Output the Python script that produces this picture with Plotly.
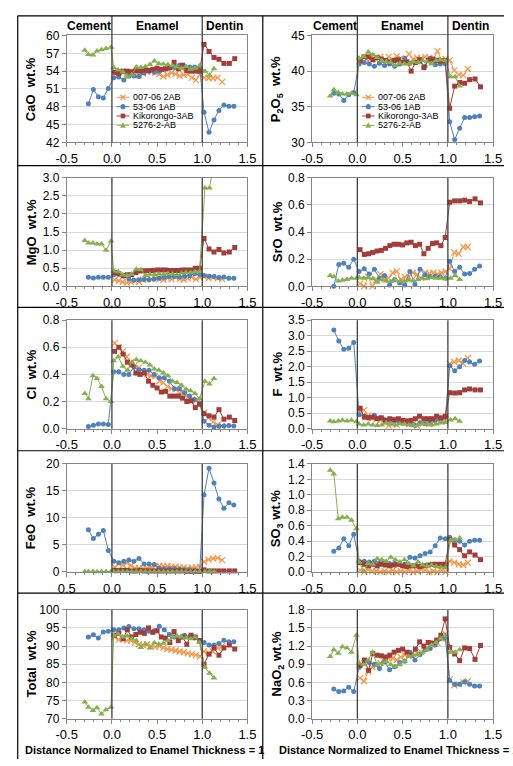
import plotly.graph_objects as go

# ---------------- data ----------------
SAMPLES = ["007-06 2AB", "53-06 1AB", "Kikorongo-3AB", "5276-2-AB"]

# normalized distance of analysis points (per sample)
X_007 = [0.03, 0.075, 0.12, 0.165, 0.21, 0.255, 0.30, 0.345, 0.39, 0.435, 0.48, 0.525, 0.57, 0.615,
         0.66, 0.705, 0.75, 0.795, 0.84, 0.885, 0.93, 0.975, 1.02, 1.07, 1.12, 1.17, 1.22]
X_53 = [-0.26, -0.205, -0.15, -0.095, -0.04, 0.02, 0.076, 0.132, 0.188, 0.244, 0.30, 0.356, 0.412,
        0.468, 0.524, 0.58, 0.636, 0.692, 0.748, 0.804, 0.86, 0.916, 0.972, 1.02, 1.075, 1.13, 1.185,
        1.24, 1.295, 1.35]
X_KIK = [0.03, 0.077, 0.124, 0.171, 0.218, 0.265, 0.312, 0.359, 0.406, 0.453, 0.50, 0.547, 0.594,
         0.641, 0.688, 0.735, 0.782, 0.829, 0.876, 0.923, 0.97, 1.02, 1.075, 1.13, 1.185, 1.24, 1.30, 1.36]
X_5276 = [-0.30, -0.26, -0.21, -0.165, -0.115, -0.065, -0.01, 0.02, 0.07, 0.12, 0.17, 0.22, 0.27,
          0.32, 0.37, 0.42, 0.47, 0.52, 0.57, 0.62, 0.67, 0.72, 0.77, 0.82, 0.87, 0.92, 0.97, 1.03,
          1.08, 1.13]

CAO_007 = [54.0, 53.9, 53.7, 53.5, 53.6, 53.4, 53.3, 53.6, 53.9, 54.0, 53.7, 53.5, 53.1, 53.4, 53.7,
           53.5, 53.2, 53.4, 53.5, 52.9, 52.5, 53.4, 52.9, 52.8, 52.8, 52.9, 52.2]
CAO_53 = [48.5, 50.9, 49.7, 49.5, 51.1, 52.9, 53.0, 52.5, 53.2, 53.2, 53.1, 53.7, 54.0, 53.8, 54.0,
          54.3, 54.5, 54.6, 55.0, 54.5, 54.7, 54.7, 54.6, 47.1, 43.7, 45.8, 47.4, 48.3, 48.1, 48.1]
CAO_KIK = [53.8, 53.6, 54.0, 54.0, 53.9, 54.1, 54.0, 54.2, 54.1, 54.3, 54.5, 54.3, 54.4, 54.6, 55.5,
           54.4, 55.0, 54.1, 54.0, 54.0, 54.0, 58.5, 57.3, 56.3, 56.0, 55.3, 55.3, 56.1]
CAO_5276 = [57.5, 56.8, 56.7, 57.4, 57.6, 57.8, 58.0, 54.6, 54.2, 53.9, 53.0, 53.4, 54.7, 54.6, 54.8,
            55.1, 55.7, 55.3, 55.2, 55.1, 54.9, 54.7, 54.5, 54.8, 54.3, 54.5, 54.9, 54.0, 53.3, 54.4]

P2O5_007 = [41.8, 41.9, 41.4, 42.1, 41.6, 42.0, 41.5, 42.0, 41.6, 42.1, 41.8, 41.7, 42.4, 41.7, 41.9,
            41.8, 42.0, 41.9, 41.6, 42.8, 41.6, 41.7, 41.5, 40.1, 39.5, 39.4, 40.3]
P2O5_53 = [36.9, 36.8, 35.9, 36.7, 37.0, 41.0, 41.2, 41.0, 40.7, 41.1, 40.8, 41.0, 40.7, 41.0, 41.8,
           41.1, 41.2, 41.3, 40.7, 41.8, 40.9, 41.0, 41.0, 32.9, 30.4, 32.0, 33.5, 33.5, 33.6, 33.7]
P2O5_KIK = [41.5, 42.0, 42.0, 41.6, 41.9, 41.7, 41.5, 41.3, 41.5, 41.6, 41.2, 41.3, 40.0, 41.2, 41.6,
            40.5, 41.5, 41.7, 41.5, 41.4, 41.5, 34.8, 37.9, 38.4, 38.3, 38.8, 38.9, 37.8]
P2O5_5276 = [36.5, 37.4, 37.0, 36.8, 36.8, 36.9, 36.7, 41.8, 42.0, 42.7, 42.3, 41.9, 41.5, 41.3, 41.2,
             40.8, 41.1, 41.0, 41.0, 41.3, 41.2, 41.5, 41.3, 41.0, 41.5, 41.6, 41.5, 39.2, 39.2, 37.9]

MGO_007 = [0.18, 0.15, 0.12, 0.10, 0.12, 0.15, 0.12, 0.18, 0.20, 0.20, 0.22, 0.20, 0.18, 0.22, 0.20,
           0.25, 0.20, 0.18, 0.22, 0.25, 0.20, 0.25, 0.27, 0.22, 0.25, 0.22, 0.20]
MGO_53 = [0.25, 0.23, 0.25, 0.25, 0.25, 0.32, 0.33, 0.28, 0.20, 0.17, 0.18, 0.19, 0.18, 0.20, 0.22,
          0.25, 0.27, 0.27, 0.26, 0.28, 0.30, 0.35, 0.33, 0.30, 0.28, 0.27, 0.24, 0.26, 0.22, 0.22]
MGO_KIK = [0.38, 0.35, 0.30, 0.32, 0.32, 0.38, 0.42, 0.43, 0.43, 0.44, 0.45, 0.45, 0.45, 0.44, 0.44,
           0.44, 0.45, 0.45, 0.45, 0.50, 0.50, 1.32, 1.03, 0.95, 1.02, 0.92, 0.95, 1.07]
MGO_5276 = [1.27, 1.20, 1.20, 1.17, 1.17, 1.00, 1.25, 0.42, 0.40, 0.32, 0.30, 0.33, 0.47, 0.46, 0.30,
            0.33, 0.32, 0.34, 0.33, 0.35, 0.34, 0.32, 0.36, 0.38, 0.38, 0.40, 0.40, 2.72, 2.72, 3.40]

SRO_007 = [0.02, 0.0, 0.07, 0.0, 0.05, 0.09, 0.05, 0.06, 0.10, 0.11, 0.05, 0.07, 0.07, 0.10, 0.085,
           0.06, 0.10, 0.095, 0.10, 0.09, 0.10, 0.11, 0.13, 0.25, 0.24, 0.29, 0.29]
SRO_53 = [0.0, 0.16, 0.17, 0.14, 0.20, 0.11, 0.13, 0.09, 0.125, 0.06, 0.08, 0.01, 0.05, 0.025, 0.01,
          0.11, 0.015, 0.125, 0.085, 0.07, 0.075, 0.07, 0.06, 0.185, 0.11, 0.14, 0.09, 0.095, 0.125, 0.15]
SRO_KIK = [0.27, 0.235, 0.24, 0.25, 0.26, 0.265, 0.28, 0.30, 0.31, 0.31, 0.305, 0.32, 0.325, 0.30, 0.31,
           0.24, 0.28, 0.315, 0.32, 0.30, 0.36, 0.62, 0.63, 0.63, 0.635, 0.625, 0.645, 0.615]
SRO_5276 = [0.08, 0.07, 0.04, 0.045, 0.05, 0.06, 0.06, 0.065, 0.06, 0.065, 0.055, 0.03, 0.05, 0.04,
            0.035, 0.05, 0.035, 0.04, 0.045, 0.04, 0.05, 0.06, 0.055, 0.065, 0.06, 0.06, 0.055, 0.06,
            0.08, 0.05]

CL_007 = [0.63, 0.60, 0.57, 0.53, 0.49, 0.47, 0.45, 0.42, 0.40, 0.39, 0.385, 0.35, 0.34, 0.31, 0.295,
          0.29, 0.265, 0.255, 0.23, 0.215, 0.205, 0.19, 0.12, 0.08, 0.05, 0.03, 0.02]
CL_53 = [0.015, 0.025, 0.035, 0.035, 0.03, 0.42, 0.42, 0.40, 0.40, 0.455, 0.435, 0.43, 0.43, 0.40, 0.375,
         0.375, 0.35, 0.295, 0.295, 0.265, 0.24, 0.215, 0.19, 0.055, 0.025, 0.012, 0.017, 0.02, 0.024, 0.02]
CL_KIK = [0.57, 0.60, 0.55, 0.49, 0.47, 0.41, 0.40, 0.41, 0.35, 0.32, 0.30, 0.27, 0.275, 0.24, 0.24,
          0.24, 0.225, 0.20, 0.205, 0.155, 0.18, 0.11, 0.095, 0.085, 0.14, 0.07, 0.085, 0.06]
CL_5276 = [0.26, 0.22, 0.39, 0.37, 0.31, 0.22, 0.20, 0.50, 0.53, 0.46, 0.43, 0.49, 0.51, 0.50, 0.49,
           0.47, 0.44, 0.43, 0.41, 0.39, 0.35, 0.34, 0.32, 0.29, 0.28, 0.26, 0.22, 0.35, 0.33, 0.37]

F_007 = [0.55, 0.60, 0.42, 0.35, 0.30, 0.28, 0.20, 0.10, 0.15, 0.12, 0.20, 0.18, 0.15, 0.15, 0.10,
         0.20, 0.18, 0.15, 0.20, 0.25, 0.22, 0.30, 2.10, 2.15, 2.20, 2.10, 2.28]
F_53 = [3.18, 2.83, 2.56, 2.59, 2.78, 0.45, 0.41, 0.37, 0.43, 0.34, 0.29, 0.27, 0.25, 0.21, 0.18,
        0.16, 0.11, 0.18, 0.16, 0.25, 0.27, 0.30, 0.37, 2.03, 1.87, 2.00, 2.20, 2.15, 2.08, 2.18]
F_KIK = [0.66, 0.37, 0.35, 0.37, 0.32, 0.35, 0.27, 0.32, 0.29, 0.32, 0.27, 0.25, 0.27, 0.32, 0.40,
         0.32, 0.32, 0.32, 0.40, 0.35, 0.40, 1.16, 1.15, 1.16, 1.25, 1.28, 1.25, 1.25]
F_5276 = [0.25, 0.22, 0.25, 0.27, 0.25, 0.27, 0.22, 0.15, 0.12, 0.15, 0.12, 0.10, 0.12, 0.18, 0.15,
          0.12, 0.15, 0.15, 0.12, 0.10, 0.12, 0.15, 0.15, 0.12, 0.15, 0.18, 0.20, 0.28, 0.32, 0.24]

FEO_007 = [0.9, 1.5, 1.3, 1.7, 1.2, 0.7, 0.7, 0.6, 0.7, 0.9, 1.1, 1.1, 1.1, 1.1, 1.0, 1.0, 0.9, 0.85,
           0.7, 0.8, 0.85, 1.0, 1.9, 2.3, 2.5, 2.6, 2.2]
FEO_53 = [7.8, 6.2, 7.0, 7.7, 4.0, 2.0, 1.7, 2.0, 2.2, 2.0, 2.5, 1.5, 1.5, 1.4, 0.7, 0.6, 0.6, 0.6,
          0.5, 0.4, 0.4, 0.3, 0.2, 14.3, 19.2, 16.5, 13.5, 11.8, 12.8, 12.4]
FEO_KIK = [0.3, 0.3, 0.3, 0.3, 0.2, 0.2, 0.3, 0.2, 0.2, 0.2, 0.2, 0.2, 0.2, 0.2, 0.2, 0.2, 0.2, 0.1,
           0.1, 0.1, 0.1, 0.4, 0.2, 0.2, 0.2, 0.2, 0.2, 0.2]
FEO_5276 = [0.1, 0.1, 0.1, 0.05, 0.1, 0.1, 0.1, 0.05, 0.05, 0.1, 0.05, 0.05, 0.05, 0.1, 0.05, 0.05,
            0.05, 0.05, 0.05, 0.05, 0.05, 0.05, 0.05, 0.05, 0.05, 0.05, 0.05, 0.05, 0.05, 0.05]

SO3_007 = [0.02, 0.0, 0.03, 0.01, 0.01, 0.0, 0.01, 0.0, 0.02, 0.0, 0.01, 0.0, 0.02, 0.0, 0.01, 0.03,
           0.02, 0.0, 0.01, 0.0, 0.02, 0.0, 0.14, 0.12, 0.10, 0.09, 0.12]
SO3_53 = [0.27, 0.31, 0.43, 0.34, 0.49, 0.14, 0.14, 0.13, 0.14, 0.12, 0.13, 0.11, 0.11, 0.10, 0.10,
          0.19, 0.18, 0.21, 0.24, 0.26, 0.34, 0.44, 0.43, 0.45, 0.41, 0.40, 0.35, 0.40, 0.41, 0.41]
SO3_KIK = [0.12, 0.10, 0.08, 0.10, 0.08, 0.10, 0.09, 0.08, 0.09, 0.10, 0.08, 0.07, 0.08, 0.08, 0.07,
           0.08, 0.09, 0.10, 0.10, 0.10, 0.10, 0.42, 0.35, 0.29, 0.21, 0.26, 0.22, 0.16]
SO3_5276 = [1.32, 1.27, 0.69, 0.71, 0.71, 0.67, 0.56, 0.13, 0.01, 0.11, 0.10, 0.17, 0.16, 0.14, 0.19,
            0.16, 0.13, 0.16, 0.11, 0.08, 0.13, 0.09, 0.08, 0.09, 0.07, 0.06, 0.05, 0.41, 0.42, 0.44]

TOTAL_007 = [92.5, 91.8, 92.0, 91.5, 91.5, 91.0, 90.5, 90.2, 90.5, 90.0, 89.8, 90.0, 89.5, 89.2, 89.0,
             88.8, 88.5, 88.3, 88.0, 87.8, 87.5, 87.2, 88.5, 88.0, 88.5, 89.5, 90.0]
TOTAL_53 = [92.5, 93.1, 92.2, 93.9, 94.1, 94.5, 94.5, 95.0, 95.4, 94.8, 94.8, 94.5, 94.1, 94.2, 95.5,
            94.5, 93.2, 92.5, 92.2, 93.0, 92.5, 92.2, 91.6, 91.0, 90.3, 90.3, 90.7, 91.6, 91.2, 91.2]
TOTAL_KIK = [93.0, 93.5, 92.0, 94.5, 92.5, 93.2, 93.8, 93.5, 95.0, 93.8, 94.2, 92.5, 92.2, 91.0, 94.0,
             91.5, 92.5, 90.5, 93.0, 92.5, 91.5, 85.0, 87.8, 89.5, 87.5, 89.5, 90.3, 89.2]
TOTAL_5276 = [74.6, 73.2, 72.3, 73.0, 71.3, 72.5, 73.2, 93.0, 93.3, 92.5, 92.8, 92.0, 91.5, 89.6, 90.6,
              89.5, 90.9, 90.5, 90.8, 91.5, 92.5, 92.8, 92.5, 92.2, 92.0, 92.5, 91.0, 84.2, 82.5, 81.2]

NAO2_007 = [0.67, 0.62, 0.78, 0.85, 0.88, 0.92, 0.95, 1.00, 1.00, 0.97, 1.02, 1.05, 1.07, 1.03, 1.08,
            1.10, 1.15, 1.20, 1.25, 1.25, 1.32, 1.40, 0.65, 0.55, 0.57, 0.60, 0.62]
NAO2_53 = [0.49, 0.45, 0.46, 0.52, 0.45, 0.85, 0.96, 0.93, 0.90, 0.83, 0.94, 0.81, 0.86, 0.93, 0.95,
           1.10, 0.97, 1.06, 1.14, 1.16, 1.22, 1.32, 1.33, 0.63, 0.57, 0.57, 0.61, 0.57, 0.54, 0.54]
NAO2_KIK = [0.88, 0.97, 0.80, 1.08, 1.05, 1.04, 1.02, 1.05, 1.10, 1.13, 1.15, 1.10, 1.05, 1.15, 1.27,
            1.20, 1.26, 1.25, 1.30, 1.38, 1.65, 1.18, 1.07, 0.96, 1.17, 1.16, 0.98, 1.21]
NAO2_5276 = [1.03, 1.14, 1.08, 1.19, 1.17, 1.10, 1.38, 0.92, 0.89, 0.97, 1.10, 0.89, 0.92, 0.95, 0.89,
             0.86, 0.89, 0.95, 1.03, 1.05, 1.06, 1.10, 1.14, 1.22, 1.26, 1.33, 1.38, 1.10, 1.10, 1.14]

X_TICKS = [-0.5, 0.0, 0.5, 1.0, 1.5]
X_TICK_TEXT = ["-0.5", "0.0", "0.5", "1.0", "1.5"]
X_TICK_TEXT_FEO = ["0.5", "0.0", "0.5", "1.0", "1.5"]
ZONES = ["Cement", "Enamel", "Dentin"]
ZONE_CENTERS = [-0.25, 0.5, 1.25]
BOUNDARIES = [0.0, 1.0]
X_TITLE = "Distance Normalized to Enamel Thickness = 1"

# panel: (y-title, data per sample, y range, dtick, tickformat, row, col)
PANELS = [
    ("CaO\u00a0\u00a0wt.%", [CAO_007, CAO_53, CAO_KIK, CAO_5276], [42, 60], 3, "d", 0, 0),
    ("P<sub>2</sub>O<sub>5</sub>\u00a0\u00a0wt.%", [P2O5_007, P2O5_53, P2O5_KIK, P2O5_5276], [30, 45], 5, "d", 0, 1),
    ("MgO\u00a0\u00a0wt.%", [MGO_007, MGO_53, MGO_KIK, MGO_5276], [0, 3], 0.5, ".1f", 1, 0),
    ("SrO\u00a0\u00a0wt.%", [SRO_007, SRO_53, SRO_KIK, SRO_5276], [0, 0.8], 0.2, ".1f", 1, 1),
    ("Cl\u00a0\u00a0wt.%", [CL_007, CL_53, CL_KIK, CL_5276], [0, 0.8], 0.2, ".1f", 2, 0),
    ("F\u00a0\u00a0wt.%", [F_007, F_53, F_KIK, F_5276], [0, 3.5], 0.5, ".1f", 2, 1),
    ("FeO\u00a0\u00a0wt.%", [FEO_007, FEO_53, FEO_KIK, FEO_5276], [0, 20], 5, "d", 3, 0),
    ("SO<sub>3</sub>\u00a0wt.%", [SO3_007, SO3_53, SO3_KIK, SO3_5276], [0, 1.4], 0.2, ".1f", 3, 1),
    ("Total\u00a0\u00a0wt.%", [TOTAL_007, TOTAL_53, TOTAL_KIK, TOTAL_5276], [70, 100], 5, "d", 4, 0),
    ("NaO<sub>2</sub>\u00a0wt.%", [NAO2_007, NAO2_53, NAO2_KIK, NAO2_5276], [0, 1.8], 0.3, ".1f", 4, 1),
]

X_BY_SAMPLE = [X_007, X_53, X_KIK, X_5276]

# ---------------- styling ----------------
W, H = 513, 766
COLORS = ["#F79646", "#4F81BD", "#A33D3A", "#86B04F"]
SYMBOLS = ["x-thin-open", "circle", "square", "triangle-up"]
MSIZES = [6, 5, 5, 6]

COL_X = [(58, 246), (313.3, 501.7)]            # plot-area left/right in px
ROW_Y = [(29, 138), (174, 284.5), (319, 429.5), (465.5, 575.5), (614, 725)]  # top/bottom in px
TITLE_X = [21, 277]
FRAME_TOP, FRAME_LEFT, FRAME_MID = 9, 7, 262
ROW_DIVIDERS = [161.5, 306, 452, 597]
LEG_ROWS = [92, 101.5, 111, 120.5]
AXIS_GRAY = "#868686"
FONT = "Arial, 'Liberation Sans', sans-serif"


def px_x(v):
    return v / W


def px_y(v):
    return 1 - v / H


def legend_key_shapes(s, cx, cy, color):
    """Small marker drawn as shapes for a legend key (pixel centre cx, cy)."""
    out = []
    if s == 0:
        r = 2.6
        for dy in (r, -r):
            out.append(dict(type="line", xref="paper", yref="paper",
                            x0=px_x(cx - r), x1=px_x(cx + r), y0=px_y(cy - dy), y1=px_y(cy + dy),
                            line=dict(color=color, width=1.2)))
    elif s == 1:
        r = 2.6
        out.append(dict(type="circle", xref="paper", yref="paper",
                        x0=px_x(cx - r), x1=px_x(cx + r), y0=px_y(cy + r), y1=px_y(cy - r),
                        fillcolor=color, line=dict(width=0)))
    elif s == 2:
        r = 2.4
        out.append(dict(type="rect", xref="paper", yref="paper",
                        x0=px_x(cx - r), x1=px_x(cx + r), y0=px_y(cy + r), y1=px_y(cy - r),
                        fillcolor=color, line=dict(width=0)))
    else:
        path = "M {:.5f},{:.5f} L {:.5f},{:.5f} L {:.5f},{:.5f} Z".format(
            px_x(cx - 3), px_y(cy + 2.6), px_x(cx + 3), px_y(cy + 2.6), px_x(cx), px_y(cy - 3))
        out.append(dict(type="path", xref="paper", yref="paper", path=path,
                        fillcolor=color, line=dict(width=0)))
    return out


fig = go.Figure()
layout = {}
shapes = []
annotations = []

for i, (ytitle, series, yr, dt, fmt, row, col) in enumerate(PANELS):
    n = i + 1
    xname = "xaxis" if n == 1 else f"xaxis{n}"
    yname = "yaxis" if n == 1 else f"yaxis{n}"
    xref = "x" if n == 1 else f"x{n}"
    yref = "y" if n == 1 else f"y{n}"
    x0, x1 = COL_X[col]
    top, bot = ROW_Y[row]

    layout[xname] = dict(
        domain=[px_x(x0), px_x(x1)], anchor=yref, range=[-0.5, 1.5],
        tickmode="array", tickvals=X_TICKS,
        ticktext=X_TICK_TEXT_FEO if ytitle.startswith("FeO") else X_TICK_TEXT,
        showgrid=False, zeroline=False, showline=True, linecolor=AXIS_GRAY, linewidth=1,
        mirror=True, ticks="outside", ticklen=4, tickcolor=AXIS_GRAY,
        tickfont=dict(size=13, family=FONT, color="black"),
        minor=dict(tick0=-0.5, dtick=0.1, ticks="outside", ticklen=2, tickcolor=AXIS_GRAY, showgrid=False),
        fixedrange=True,
    )
    layout[yname] = dict(
        domain=[px_y(bot), px_y(top)], anchor=xref, range=yr, tick0=yr[0], dtick=dt,
        tickformat=fmt, showgrid=True, gridcolor="#D9D9D9", gridwidth=1, zeroline=False,
        showline=True, linecolor=AXIS_GRAY, linewidth=1, mirror=True, ticks="outside",
        ticklen=4, tickcolor=AXIS_GRAY, tickfont=dict(size=12, family=FONT, color="black"),
        fixedrange=True,
    )

    for s in range(4):
        fig.add_trace(go.Scatter(
            x=X_BY_SAMPLE[s], y=series[s], name=SAMPLES[s], mode="lines+markers",
            xaxis=xref, yaxis=yref, showlegend=False, hoverinfo="skip",
            cliponaxis=ytitle.startswith("MgO"),
            line=dict(color=COLORS[s], width=1),
            marker=dict(symbol=SYMBOLS[s], size=MSIZES[s], color=COLORS[s],
                        line=dict(color=COLORS[s], width=1.2 if s == 0 else 0)),
        ))

    # zone boundaries
    for b in BOUNDARIES:
        shapes.append(dict(type="line", xref=xref, yref="paper", x0=b, x1=b,
                           y0=px_y(bot), y1=px_y(FRAME_TOP if row == 0 else top),
                           line=dict(color="#404040", width=1.3), layer="above"))

    # y title
    annotations.append(dict(xref="paper", yref="paper", x=px_x(TITLE_X[col]), y=px_y((top + bot) / 2),
                            text=f"<b>{ytitle}</b>", textangle=-90, showarrow=False,
                            font=dict(size=13, family=FONT, color="black"),
                            xanchor="center", yanchor="middle"))

    if row == 0:
        for z, zc in zip(ZONES, ZONE_CENTERS):
            annotations.append(dict(xref=xref, yref="paper", x=zc, y=px_y(19), text=f"<b>{z}</b>",
                                    showarrow=False, font=dict(size=12, family=FONT, color="black"),
                                    xanchor="center", yanchor="middle"))
        # legend (keys drawn as shapes + text labels)
        for s in range(4):
            ly = LEG_ROWS[s]
            shapes.append(dict(type="line", xref="paper", yref="paper",
                               x0=px_x(x0 + 52), x1=px_x(x0 + 65), y0=px_y(ly), y1=px_y(ly),
                               line=dict(color=COLORS[s], width=1)))
            shapes.extend(legend_key_shapes(s, x0 + 58.5, ly, COLORS[s]))
            annotations.append(dict(xref="paper", yref="paper", x=px_x(x0 + 68), y=px_y(ly),
                                    text=SAMPLES[s], showarrow=False,
                                    font=dict(size=9, family=FONT, color="black"),
                                    xanchor="left", yanchor="middle", borderpad=0))

    if row == 4:
        annotations.append(dict(xref="paper", yref="paper", x=px_x(13 if col == 0 else 277), y=px_y(757),
                                text=f"<b>{X_TITLE}</b>", showarrow=False,
                                font=dict(size=11, family=FONT, color="black"),
                                xanchor="left", yanchor="middle"))

# frame lines
FRAME = dict(color="black", width=1.2)
shapes.append(dict(type="line", xref="paper", yref="paper", x0=px_x(FRAME_LEFT), x1=px_x(FRAME_LEFT),
                   y0=px_y(FRAME_TOP), y1=0, line=FRAME))
shapes.append(dict(type="line", xref="paper", yref="paper", x0=px_x(FRAME_MID), x1=px_x(FRAME_MID),
                   y0=px_y(FRAME_TOP), y1=0, line=FRAME))
shapes.append(dict(type="line", xref="paper", yref="paper", x0=px_x(FRAME_LEFT), x1=1,
                   y0=px_y(FRAME_TOP), y1=px_y(FRAME_TOP), line=FRAME))
for d in ROW_DIVIDERS:
    shapes.append(dict(type="line", xref="paper", yref="paper", x0=px_x(FRAME_LEFT), x1=1,
                       y0=px_y(d), y1=px_y(d), line=FRAME))

fig.update_layout(
    width=W, height=H, margin=dict(l=0, r=0, t=0, b=0, pad=0),
    paper_bgcolor="white", plot_bgcolor="white", showlegend=False,
    font=dict(family=FONT, color="black"),
    shapes=shapes, annotations=annotations, **layout,
)

fig.write_html("out.html", config={"displayModeBar": False, "staticPlot": True},
               post_script="document.body.style.margin='0';document.body.style.overflow='hidden';")
